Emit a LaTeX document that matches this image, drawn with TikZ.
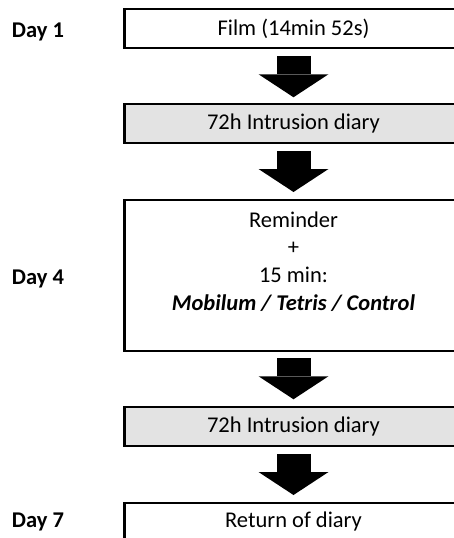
\documentclass[tikz,border=0pt]{standalone}
\usepackage{fontspec}
\setmainfont{Carlito}
\usetikzlibrary{arrows.meta,calc}
\begin{document}
\begin{tikzpicture}[x=1pt,y=-1pt,
  box/.style={draw=black, line width=2.3pt, minimum width=338pt, minimum height=38.5pt,
    inner sep=0pt, outer sep=0pt, font=\fontsize{22.5}{27.7}\selectfont},
  graybox/.style={box, fill=black!11},
  txt/.style={inner sep=0pt, outer sep=0pt, font=\fontsize{22.5}{27.7}\selectfont},
  daylbl/.style={inner sep=0pt, outer sep=0pt, anchor=base west, font=\fontsize{22.5}{27}\selectfont\bfseries},
  bigarrow/.style={line width=34pt, -{Triangle[width=70pt,length=23pt,line width=0pt]}}]
\useasboundingbox (0,0) rectangle (454,538);
\clip (0,0) rectangle (454,538);
\fill[white] (0,0) rectangle (454,538);
% boxes
\node[box] (film) at (293.5,28.5) {Film (14min 52s)};
\node[graybox] (diary1) at (293.5,123.5) {72h Intrusion diary};
\node[box, minimum height=151pt] (task) at (293.5,275.5) {};
\node[txt, align=center] (tasktext) at (293.5,261.5)
  {Reminder\\+\\15 min:\\\textbf{\textit{Mobilum / Tetris / Control}}};
\node[graybox] (diary2) at (293.5,426.5) {72h Intrusion diary};
\node[box, minimum height=60pt, anchor=north] (ret) at (293.5,503) {};
\node[txt, anchor=base] (rettext) at (293.5,527) {Return of diary};
% day labels
\node[daylbl] (d1) at (12,37) {Day 1};
\node[daylbl] (d4) at (12,284.5) {Day 4};
\node[daylbl] (d7) at (12,527) {Day 7};
% arrows
\draw[bigarrow] ($(film.south)+(0,8)$) -- ($(diary1.north)+(0,-7)$);
\draw[bigarrow] ($(diary1.south)+(0,8)$) -- ($(task.north)+(0,-8)$);
\draw[bigarrow] ($(task.south)+(0,7)$) -- ($(diary2.north)+(0,-8)$);
\draw[bigarrow] ($(diary2.south)+(0,8)$) -- ($(ret.north)+(0,-8)$);
\end{tikzpicture}
\end{document}
